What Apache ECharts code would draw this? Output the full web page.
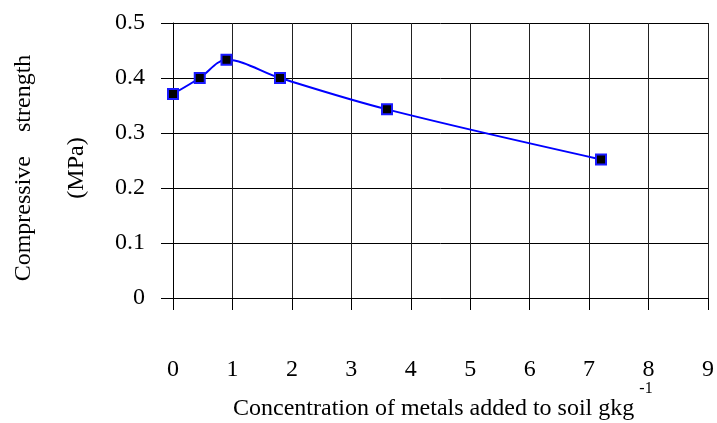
<!DOCTYPE html>
<html>
<head>
<meta charset="utf-8">
<script src="https://cdn.jsdelivr.net/npm/echarts@6/dist/echarts.min.js"></script>
<style>
  html, body { margin: 0; padding: 0; background: #fff; }
  #chart { width: 717px; height: 423px; }
</style>
</head>
<body>
<div id="chart"></div>
<script>
// Metal concentration added to soil (g/kg) and resulting compressive strength (MPa)
const concentration = [0, 0.45, 0.9, 1.8, 3.6, 7.2];
const strength = [0.371, 0.400, 0.433, 0.400, 0.343, 0.252];
const xTicks = [0, 1, 2, 3, 4, 5, 6, 7, 8, 9];
const yTicks = [0, 0.1, 0.2, 0.3, 0.4, 0.5];

const FONT = '"Liberation Serif", "DejaVu Serif", serif';
const chart = echarts.init(document.getElementById('chart'));

chart.setOption({
  animation: false,
  backgroundColor: '#fff',
  grid: { left: 173, right: 7, top: 23, bottom: 125, containLabel: false },
  xAxis: {
    type: 'value',
    min: xTicks[0],
    max: xTicks[xTicks.length - 1],
    interval: 1,
    axisLine: { show: true, lineStyle: { color: '#000', width: 1 } },
    axisTick: { show: true, length: 12, lineStyle: { color: '#000' } },
    axisLabel: { margin: 60, fontFamily: FONT, fontSize: 24, color: '#000' },
    splitLine: { show: true, lineStyle: { color: '#222', width: 1 } }
  },
  yAxis: {
    type: 'value',
    min: yTicks[0],
    max: yTicks[yTicks.length - 1],
    interval: 0.1,
    axisLine: { show: true, lineStyle: { color: '#000', width: 1 } },
    axisTick: { show: true, length: 12, lineStyle: { color: '#000' } },
    axisLabel: {
      margin: 28, fontFamily: FONT, fontSize: 24, color: '#000',
      formatter: v => (Math.round(v * 10) / 10).toString()
    },
    splitLine: { show: true, lineStyle: { color: '#000', width: 1 } }
  },
  series: [{
    type: 'line',
    data: concentration.map((x, i) => [x, strength[i]]),
    smooth: 0.35,
    symbol: 'rect',
    symbolSize: 10,
    lineStyle: { color: '#0000ff', width: 2 },
    itemStyle: { color: '#000', borderColor: '#1a1aff', borderWidth: 2 },
    z: 5
  }],
  graphic: [
    {
      type: 'text', x: 24, y: 168, rotation: Math.PI / 2,
      style: {
        text: 'Compressive    strength', font: '24px ' + FONT, fill: '#000',
        align: 'center', verticalAlign: 'middle'
      }
    },
    {
      type: 'text', x: 77, y: 168, rotation: Math.PI / 2,
      style: {
        text: '(MPa)', font: '24px ' + FONT, fill: '#000',
        align: 'center', verticalAlign: 'middle'
      }
    },
    {
      type: 'text', x: 233, y: 409,
      style: {
        text: 'Concentration of metals added to soil gkg', font: '24px ' + FONT, fill: '#000',
        align: 'left', verticalAlign: 'middle'
      }
    },
    {
      type: 'text', x: 646, y: 389,
      style: {
        text: '-1', font: '16px ' + FONT, fill: '#000',
        align: 'center', verticalAlign: 'middle'
      }
    }
  ]
});
</script>
</body>
</html>
